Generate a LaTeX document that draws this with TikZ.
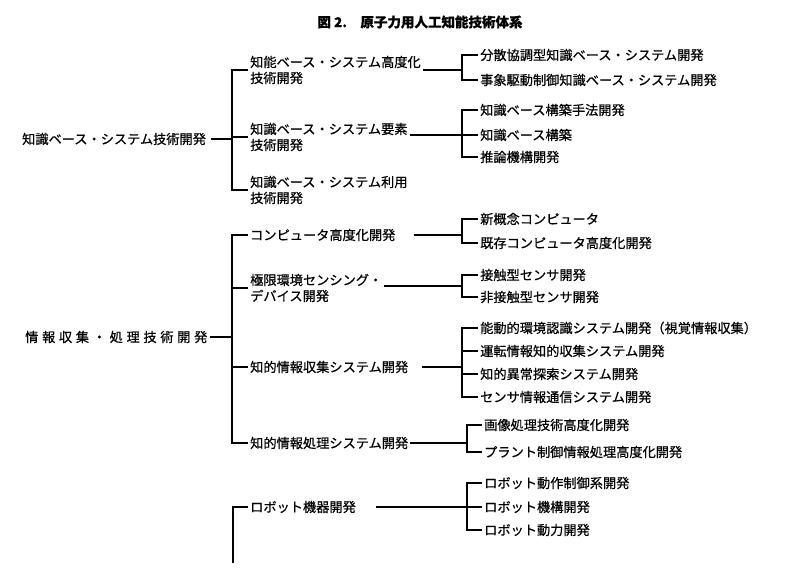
\documentclass[tikz,border=0pt]{standalone}
\usepackage{fontspec}
\setmainfont{Noto Sans CJK JP}[FakeBold=0.6]
\newfontfamily\widejp[LetterSpace=28, FakeBold=0.6]{Noto Sans CJK JP}
\usetikzlibrary{positioning}
\tikzstyle{lbl}  = [anchor=west, inner sep=2pt, font=\fontsize{13.2}{16}\selectfont]
\tikzstyle{two}  = [lbl, align=left]
\tikzstyle{wire} = [draw, line width=1.1pt]

\begin{document}
\begin{tikzpicture}[x=1pt, y=-1pt]
\useasboundingbox (0,0) rectangle (787,584);

% title
\node [font=\bfseries\fontsize{13.5}{15}\selectfont] (title) at (420,22) {図 2.\hspace{1em}原子力用人工知能技術体系};

% nodes: knowledge base
\node [lbl] (kb)   at (20,139)  {知識ベース・システム技術開発};
\node [two] (kb1)  at (248,70)  {知能ベース・システム高度化\\技術開発};
\node [two] (kb2)  at (248,137) {知識ベース・システム要素\\技術開発};
\node [two] (kb3)  at (248,190) {知識ベース・システム利用\\技術開発};
\node [lbl] (kb11) at (478,55)  {分散協調型知識ベース・システム開発};
\node [lbl] (kb12) at (478,80)  {事象駆動制御知識ベース・システム開発};
\node [lbl] (kb21) at (478,110) {知識ベース構築手法開発};
\node [lbl] (kb22) at (478,135) {知識ベース構築};
\node [lbl] (kb23) at (478,157) {推論機構開発};

% nodes: information
\node [lbl, font=\widejp\fontsize{13.2}{16}\selectfont] (ip) at (23,337) {情報収集・処理技術開発};
\node [lbl] (ip1)  at (248,235) {コンピュータ高度化開発};
\node [two] (ip2)  at (248,288) {極限環境センシング・\\デバイス開発};
\node [lbl] (ip3)  at (248,367) {知的情報収集システム開発};
\node [lbl] (ip4)  at (248,443) {知的情報処理システム開発};
\node [lbl] (ip11) at (478,219) {新概念コンピュータ};
\node [lbl] (ip12) at (478,243) {既存コンピュータ高度化開発};
\node [lbl] (ip21) at (478,275) {接触型センサ開発};
\node [lbl] (ip22) at (478,297) {非接触型センサ開発};
\node [lbl] (ip31) at (478,328) {能動的環境認識システム開発（視覚情報収集）};
\node [lbl] (ip32) at (478,351) {運転情報知的収集システム開発};
\node [lbl] (ip33) at (478,374) {知的異常探索システム開発};
\node [lbl] (ip34) at (478,397) {センサ情報通信システム開発};
\node [lbl] (ip41) at (482,425) {画像処理技術高度化開発};
\node [lbl] (ip42) at (482,452) {プラント制御情報処理高度化開発};

% nodes: robot
\node [lbl] (rb1)  at (248,507) {ロボット機器開発};
\node [lbl] (rb11) at (482,483) {ロボット動作制御系開発};
\node [lbl] (rb12) at (482,507) {ロボット機構開発};
\node [lbl] (rb13) at (482,530) {ロボット動力開発};

% junctions
\coordinate (jkb)  at (232,139);
\coordinate (jkb1) at (462,70);
\coordinate (jkb2) at (462,135);
\coordinate (jip)  at (232,337);
\coordinate (jip1) at (462,235);
\coordinate (jip2) at (462,286);
\coordinate (jip3) at (462,367);
\coordinate (jip4) at (467,443);
\coordinate (jrb1) at (467,507);
\coordinate (rbot) at (233,563);

% edges
\path [wire] ([xshift=3pt]kb.east) -- (jkb);
\path [wire] (jkb) |- (kb1.west);
\path [wire] (jkb) |- (kb2.west);
\path [wire] (jkb) |- (kb3.west);
\path [wire] (kb1.east |- jkb1) -- (jkb1);
\path [wire] (jkb1) |- (kb11.west);
\path [wire] (jkb1) |- (kb12.west);
\path [wire] (kb2.east |- jkb2) -- (jkb2);
\path [wire] (jkb2) |- (kb21.west);
\path [wire] (jkb2) |- (kb22.west);
\path [wire] (jkb2) |- (kb23.west);

\path [wire] (ip.east) -- (jip);
\path [wire] (jip) |- (ip1.west);
\path [wire] (jip) |- (ip2.west);
\path [wire] (jip) |- (ip3.west);
\path [wire] (jip) |- (ip4.west);
\path [wire] ([xshift=16pt]ip1.east) -- (jip1);
\path [wire] (jip1) |- (ip11.west);
\path [wire] (jip1) |- (ip12.west);
\path [wire] (ip2.east |- jip2) -- (jip2);
\path [wire] (jip2) |- (ip21.west);
\path [wire] (jip2) |- (ip22.west);
\path [wire] ([xshift=12pt]ip3.east) -- (jip3);
\path [wire] (jip3) |- (ip31.west);
\path [wire] (jip3) |- (ip32.west);
\path [wire] (jip3) |- (ip33.west);
\path [wire] (jip3) |- (ip34.west);
\path [wire] (ip4.east) -- (jip4);
\path [wire] (jip4) |- (ip41.west);
\path [wire] (jip4) |- (ip42.west);

\path [wire] (rbot) |- (rb1.west);
\path [wire] ([xshift=18pt]rb1.east) -- (jrb1);
\path [wire] (jrb1) |- (rb11.west);
\path [wire] (jrb1) |- (rb12.west);
\path [wire] (jrb1) |- (rb13.west);

\end{tikzpicture}
\end{document}
